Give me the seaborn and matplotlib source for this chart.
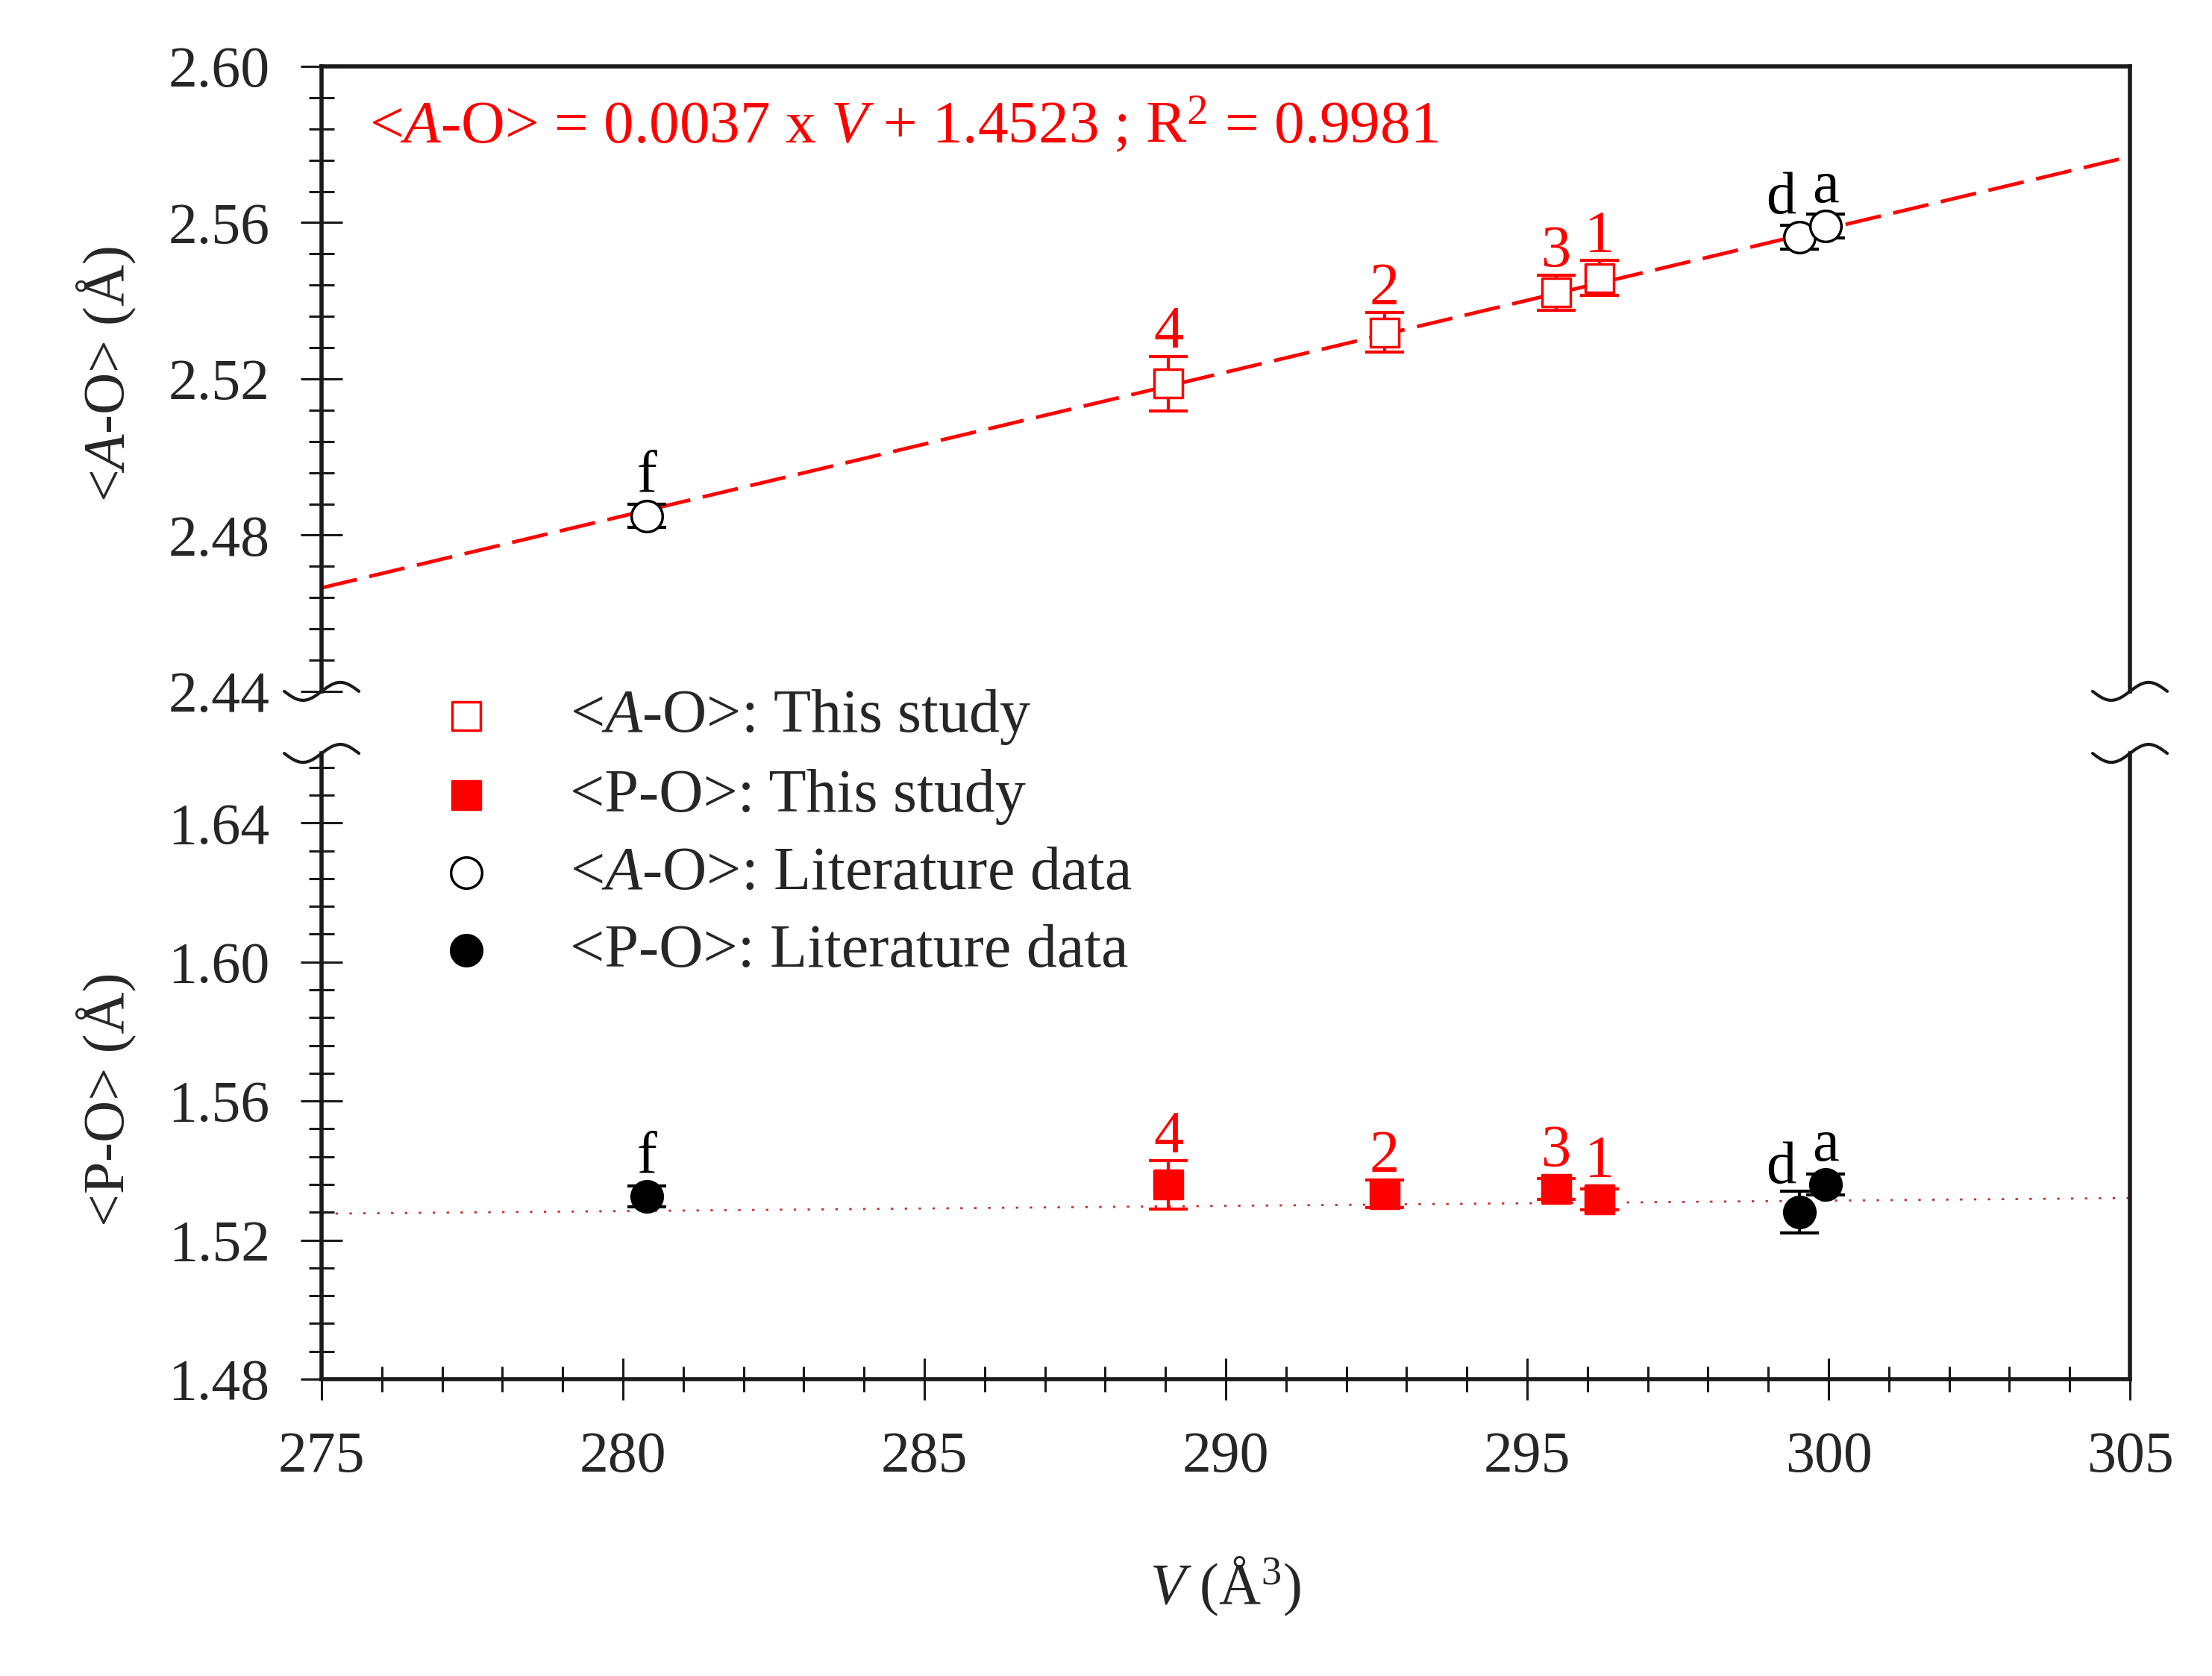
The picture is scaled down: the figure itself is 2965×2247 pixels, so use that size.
import matplotlib
matplotlib.use("Agg")
import matplotlib.pyplot as plt
import matplotlib.transforms as mtransforms
import numpy as np
import seaborn as sns
from matplotlib.ticker import MultipleLocator, FormatStrFormatter

# 本研究的数据 (V, <A-O>, <P-O>)
study_labels = ['4', '2', '3', '1']
study_v = [289.05, 292.63, 295.48, 296.2]
study_ao = [2.5188, 2.5319, 2.5421, 2.5458]
study_ao_err = [0.007, 0.005, 0.0045, 0.0045]
study_po = [1.5359, 1.5333, 1.5348, 1.5318]
study_po_err = [0.007, 0.004, 0.003, 0.003]

# 文献数据
lit_labels = ['f', 'd', 'a']
lit_v = [280.4, 299.52, 299.95]
lit_ao = [2.4849, 2.5563, 2.5591]
lit_ao_err = [0.003, 0.003, 0.003]
lit_po = [1.5325, 1.528, 1.5361]
lit_po_err = [0.003, 0.006, 0.003]

# 拟合线 (斜率, 截距)
ao_fit = (0.00368, 1.4545)
po_fit = (0.00015, 1.48635)
v_range = np.array([275.0, 305.0])

FS = 56
INK = '#1a1a1a'

sns.set_style('ticks')
plt.rcParams['font.family'] = ['Liberation Serif', 'DejaVu Serif']
plt.rcParams['mathtext.fontset'] = 'custom'
plt.rcParams['mathtext.rm'] = 'Liberation Serif'
plt.rcParams['mathtext.it'] = 'Liberation Serif:italic'
plt.rcParams['mathtext.bf'] = 'Liberation Serif:bold'

fig = plt.figure(figsize=(29.65, 22.47), dpi=100)
ax1 = fig.add_axes([0.1454, 0.5875, 0.8175, 0.3729])
ax2 = fig.add_axes([0.1454, 0.1771, 0.8175, 0.3734])

ax1.set_ylim(2.44, 2.60)
ax2.set_ylim(1.48, 1.66)
for ax in (ax1, ax2):
    ax.set_xlim(275, 305)
    ax.yaxis.set_major_locator(MultipleLocator(0.04))
    ax.yaxis.set_minor_locator(MultipleLocator(0.008))
    ax.yaxis.set_major_formatter(FormatStrFormatter('%.2f'))
    ax.tick_params(axis='y', which='major', direction='inout', length=40, width=2.2,
                   pad=30, labelsize=FS, right=False, color=INK)
    ax.tick_params(axis='y', which='minor', direction='inout', length=24, width=2.2,
                   right=False, color=INK)
    for sp in ax.spines.values():
        sp.set_linewidth(4)
        sp.set_color(INK)

ax1.spines['bottom'].set_visible(False)
ax2.spines['top'].set_visible(False)
ax1.tick_params(axis='x', which='both', bottom=False, top=False, labelbottom=False)
ax2.xaxis.set_major_locator(MultipleLocator(5))
ax2.xaxis.set_minor_locator(MultipleLocator(1))
ax2.tick_params(axis='x', which='major', direction='inout', length=40, width=2.2,
                pad=30, labelsize=FS, top=False, color=INK)
ax2.tick_params(axis='x', which='minor', direction='inout', length=24, width=2.2,
                top=False, color=INK)

# 拟合线
sns.lineplot(x=v_range, y=ao_fit[0] * v_range + ao_fit[1], ax=ax1, color='red',
             linestyle=(0, (10, 3.5)), linewidth=3.5, zorder=1)
sns.lineplot(x=v_range, y=po_fit[0] * v_range + po_fit[1], ax=ax2, color='#c83030',
             linestyle=(0, (1.2, 5.5)), linewidth=2.0, zorder=1)

# 误差棒
err_kw = dict(fmt='none', elinewidth=3, capsize=18.5, capthick=3, zorder=2)
ax1.errorbar(study_v, study_ao, yerr=study_ao_err, ecolor='red', **err_kw)
ax1.errorbar(lit_v, lit_ao, yerr=lit_ao_err, ecolor='black', **err_kw)
ax2.errorbar(study_v, study_po, yerr=study_po_err, ecolor='red', **err_kw)
ax2.errorbar(lit_v, lit_po, yerr=lit_po_err, ecolor='black', **err_kw)

# 数据点
SQ, CI = 27 ** 2, 30 ** 2
sns.scatterplot(x=study_v, y=study_ao, ax=ax1, marker='s', s=SQ, facecolor='white',
                edgecolor='red', linewidth=2.5, zorder=3, legend=False)
h_ao_study = ax1.collections[-1]
sns.scatterplot(x=lit_v, y=lit_ao, ax=ax1, marker='o', s=CI, facecolor='white',
                edgecolor='black', linewidth=2.5, zorder=3, legend=False)
h_ao_lit = ax1.collections[-1]
sns.scatterplot(x=study_v, y=study_po, ax=ax2, marker='s', s=SQ, facecolor='red',
                edgecolor='red', linewidth=2.5, zorder=3, legend=False)
h_po_study = ax2.collections[-1]
sns.scatterplot(x=lit_v, y=lit_po, ax=ax2, marker='o', s=CI, facecolor='black',
                edgecolor='black', linewidth=2.5, zorder=3, legend=False)
h_po_lit = ax2.collections[-1]

ax1.set_xlim(275, 305)
ax2.set_xlim(275, 305)
ax1.set_ylim(2.44, 2.60)
ax2.set_ylim(1.48, 1.66)
ax1.set_xlabel('')
ax2.set_xlabel('')


def label_points(ax, xs, ys, errs, labels, color, radius_pt):
    for x, y, e, lab in zip(xs, ys, errs, labels):
        y0 = ax.transData.transform((x, y))[1]
        y1 = ax.transData.transform((x, y + e))[1]
        rise = max((y1 - y0) * 72 / fig.dpi, radius_pt)
        dx = -18 if lab == 'd' else 0
        ax.annotate(lab, (x, y), xytext=(dx, rise + 8), textcoords='offset points',
                    ha='center', va='baseline', color=color, fontsize=58)


label_points(ax1, study_v, study_ao, study_ao_err, study_labels, 'red', 13.5)
label_points(ax1, lit_v, lit_ao, lit_ao_err, lit_labels, 'black', 15)
label_points(ax2, study_v, study_po, study_po_err, study_labels, 'red', 13.5)
label_points(ax2, lit_v, lit_po, lit_po_err, lit_labels, 'black', 15)


# 断轴符号
def draw_break(ax, xf, yf):
    t = np.linspace(-1, 1, 80)
    trans = fig.dpi_scale_trans + mtransforms.ScaledTranslation(xf, yf, ax.transAxes)
    ax.plot(t * 0.5, 0.12 * np.sin(np.pi * t), color=INK, lw=3, transform=trans,
            clip_on=False, zorder=5)


for xf in (0, 1):
    draw_break(ax1, xf, 0)
    draw_break(ax2, xf, 1)

ax1.text(0.0264, 0.905, r'<$\mathit{A}$-O> = 0.0037 x $\mathit{V}$ + 1.4523 ; R$^{2}$ = 0.9981',
         transform=ax1.transAxes, color='red', fontsize=58.5, ha='left', va='center')

fig.text(0.048, 0.777, r'<$\mathit{A}$-O> (Å)', rotation=90, ha='center', va='center', fontsize=FS)
fig.text(0.048, 0.344, '<P-O> (Å)', rotation=90, ha='center', va='center', fontsize=FS)
fig.text(0.554, 0.0534, r'$\mathit{V}$ (Å$^{3}$)', ha='center', va='center', fontsize=FS)

fig.legend(handles=[h_ao_study, h_po_study, h_ao_lit, h_po_lit],
           labels=[r'<$\mathit{A}$-O>: This study', '<P-O>: This study',
                   r'<$\mathit{A}$-O>: Literature data', '<P-O>: Literature data'],
           loc='upper left', bbox_to_anchor=(0.190, 0.5895), frameon=False, fontsize=59,
           handlelength=1.5, handletextpad=0.95, labelspacing=0.35, borderpad=0,
           borderaxespad=0, scatterpoints=1)

fig.savefig('out.png', dpi=100, facecolor='white')
